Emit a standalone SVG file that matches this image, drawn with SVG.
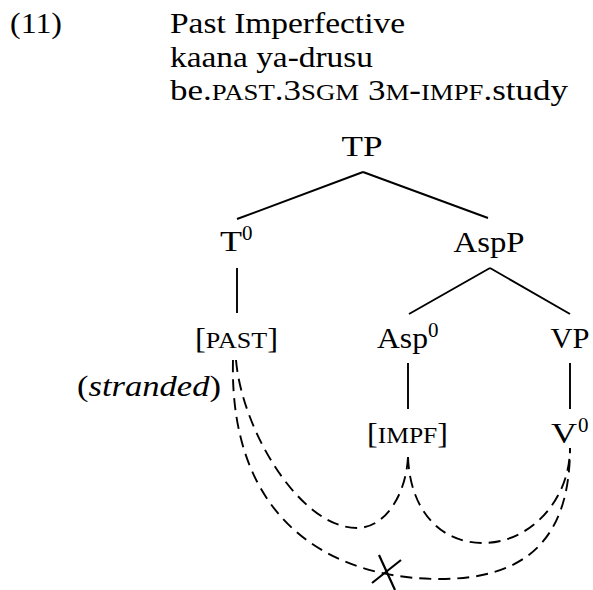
<svg xmlns="http://www.w3.org/2000/svg" width="593" height="590" viewBox="0 0 593 590">
<style>
text{font-family:"Liberation Serif","Times New Roman",serif;font-size:30px;fill:#000}
.sc{font-size:23px}
.tsc{font-size:24px}
.sup{font-size:21px}
.it{font-style:italic}
.edge{stroke:#000;stroke-width:1.9;fill:none}
.dash{stroke:#000;stroke-width:1.9;fill:none;stroke-dasharray:12 7}
.x{stroke:#000;stroke-width:2.2;fill:none}
</style>
<rect width="593" height="590" fill="#fff"/>
<g id="header">
<text x="10" y="33" textLength="52" lengthAdjust="spacingAndGlyphs">(11)</text>
<text x="170" y="33" textLength="235" lengthAdjust="spacingAndGlyphs">Past Imperfective</text>
<text x="170" y="67" textLength="203" lengthAdjust="spacingAndGlyphs">kaana ya-drusu</text>
<text x="170" y="100" textLength="398" lengthAdjust="spacingAndGlyphs">be.<tspan class="sc">PAST</tspan>.3<tspan class="sc">SGM</tspan> 3<tspan class="sc">M</tspan>-<tspan class="sc">IMPF</tspan>.study</text>
</g>
<g id="connectors">
<path class="edge" d="M363 172L237 219M363 172L488 218"/>
<path class="edge" d="M237 268V313"/>
<path class="edge" d="M490 268L409 314M490 268L570 314"/>
<path class="edge" d="M408 363V409M570 363V409"/>
<path class="dash" d="M236 360C242 430 300 528 357 528C385 528 406 495 408 457"/>
<path class="dash" d="M408 457C410 510 440 543 483 543C530 543 570 500 570 448"/>
<path class="dash" d="M233 360C229 520 330 579 440 579C525 579 570 540 570 448"/>
<path class="x" d="M372 583L401 560M379 555L395 590"/>
</g>
<g id="TP"><text x="362" y="156" text-anchor="middle" textLength="41" lengthAdjust="spacingAndGlyphs">TP</text></g>
<g id="T0"><text x="220" y="251" textLength="22" lengthAdjust="spacingAndGlyphs">T</text><text class="sup" x="242" y="240">0</text></g>
<g id="AspP"><text x="489" y="252" text-anchor="middle" textLength="71" lengthAdjust="spacingAndGlyphs">AspP</text></g>
<g id="PAST"><text x="195" y="348" textLength="83" lengthAdjust="spacingAndGlyphs">[<tspan class="tsc">PAST</tspan>]</text></g>
<g id="Asp0"><text x="377" y="348" textLength="51" lengthAdjust="spacingAndGlyphs">Asp</text><text class="sup" x="428" y="337">0</text></g>
<g id="VP"><text x="570" y="348" text-anchor="middle" textLength="39" lengthAdjust="spacingAndGlyphs">VP</text></g>
<g id="stranded"><text x="77" y="396" textLength="144" lengthAdjust="spacingAndGlyphs">(<tspan class="it">stranded</tspan>)</text></g>
<g id="IMPF"><text x="367" y="443" textLength="81" lengthAdjust="spacingAndGlyphs">[<tspan class="tsc">IMPF</tspan>]</text></g>
<g id="V0"><text x="551" y="443" textLength="26" lengthAdjust="spacingAndGlyphs">V</text><text class="sup" x="578" y="432">0</text></g>
</svg>
